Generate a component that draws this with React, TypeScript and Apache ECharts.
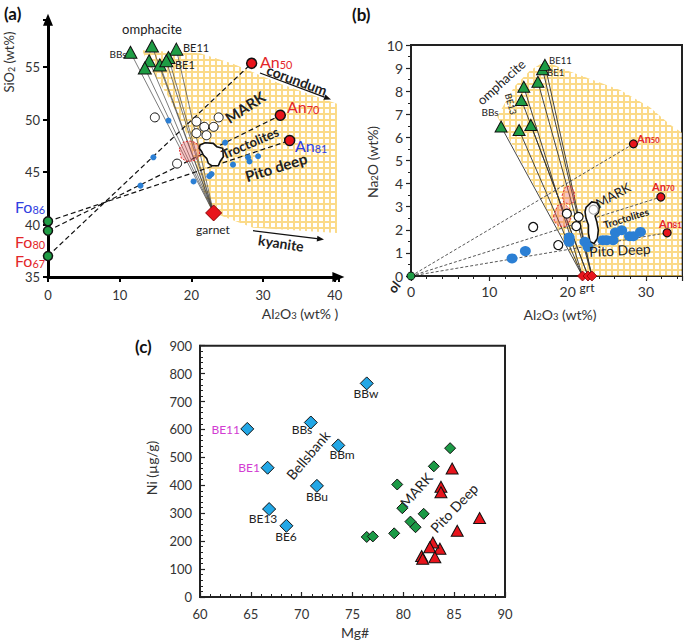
import React, { useEffect, useRef } from 'react';
import * as echarts from 'echarts';

const FONT = 'Lato, "Open Sans", "DejaVu Sans", sans-serif';

// ---------- Panel (a): SiO2 vs Al2O3 ----------
const aOmphacite = [[11.5, 56.4], [14.5, 57.0], [17.9, 56.7], [14.1, 55.6], [13.5, 54.9], [15.6, 55.2], [16.8, 55.9], [16.5, 55.6]];
const aGarnet = [[23.1, 41.1]];
const aOlivine = [[0, 40.3], [0, 39.4], [0, 37.0]]; // Fo86, Fo80, Fo67
const aPlagioclase = [[28.4, 55.35], [32.4, 50.4], [33.7, 48.0]]; // An50, An70, An81
const aMixPairs = [[2, 0], [1, 1], [0, 2]]; // olivine index -> plagioclase index
const aMark = [[14.9, 50.2], [20.7, 49.8], [21.8, 49.3], [23.1, 49.3], [23.8, 50.2], [20.7, 48.7], [22.1, 48.5], [18.0, 45.8]];
const aPito = [[16.8, 49.9], [14.7, 46.4], [12.9, 43.7], [24.7, 47.8], [25.8, 45.7], [27.9, 46.4], [28.1, 46.0], [29.3, 46.5], [20.3, 44.1], [22.5, 44.6], [22.8, 44.8]];
const aField = [[13.1, 56.6], [21.2, 56.3], [25.8, 55.3], [32.4, 53.4], [40.3, 51.5], [40.3, 39.2], [28.6, 39.7], [23.1, 41.1], [22.1, 42.3], [19.3, 48.7], [17.0, 51.9], [14.2, 55.0]];
const aTroctolites = [[21.2, 47.57], [21.9, 47.79], [23.05, 47.73], [23.53, 47.41], [24.37, 47.26], [24.45, 46.46], [23.99, 45.98], [23.75, 45.6], [22.83, 45.6], [22.36, 45.83], [22.13, 46.3], [21.66, 46.62], [21.44, 46.93], [21.1, 47.26]];
const aRedField = [[18.3, 47.2], [18.9, 47.85], [19.8, 47.95], [20.6, 47.8], [21.2, 47.3], [21.1, 46.5], [20.5, 46.1], [19.4, 46.0], [18.6, 46.3]];

// ---------- Panel (b): Na2O vs Al2O3 ----------
const bOmphacite = [[11.5, 6.47], [13.8, 6.32], [14.1, 7.62], [14.4, 8.19], [15.3, 6.54], [16.2, 8.41], [16.8, 8.95], [17.1, 9.14]];
const bGarnet = [[21.9, 0], [22.6, 0], [23.1, 0]];
const bTieTo = [0, 0, 1, 0, 1, 2, 2, 2];
const bOlivine = [[0, 0]];
const bPlagioclase = [[28.4, 5.72], [31.9, 3.42], [32.7, 1.87]];
const bMark = [[15.6, 2.12], [18.8, 1.34], [19.9, 2.7], [21.4, 2.56], [21.1, 2.16]];
const bMarkGray = [[23.3, 2.87]];
const bPito = [[12.9, 0.76], [14.6, 1.08], [20.2, 1.67], [20.2, 1.48], [22.2, 1.48], [22.6, 1.26], [24.5, 1.55], [25.0, 1.55], [25.8, 1.55], [26.1, 1.88], [26.9, 1.98], [27.9, 1.72], [28.4, 1.72], [29.3, 1.91]];
const bField = [[11.0, 6.9], [13.2, 8.2], [15.2, 8.9], [17.1, 9.3], [20.3, 8.85], [26.7, 8.05], [30.5, 7.3], [33.1, 6.55], [34.6, 6.2], [34.6, 0], [21.9, 0]];
const bMarkOutline = [[22.65, 3.07], [23.08, 3.21], [23.72, 3.17], [24.05, 3.0], [23.92, 2.74], [23.5, 2.6], [23.72, 2.35], [23.92, 1.99], [23.8, 1.63], [23.37, 1.41], [22.86, 1.48], [22.65, 1.85], [22.65, 2.21], [22.35, 2.5], [22.22, 2.78], [22.35, 2.97]];
const bRedUpper = [[19.3, 3.5], [19.7, 3.85], [20.4, 3.9], [20.9, 3.6], [20.8, 3.2], [20.2, 3.1], [19.5, 3.2]];
const bRedLower = [[18.2, 2.6], [18.7, 3.05], [19.5, 3.15], [20.3, 2.9], [20.4, 2.45], [19.8, 2.15], [18.9, 2.15], [18.3, 2.35]];

// ---------- Panel (c): Ni vs Mg# ----------
const cBellsNames = ['BE11', 'BE1', 'BE13', 'BE6', 'BBs', 'BBm', 'BBu', 'BBw'];
const cBellsMg = [64.65, 66.65, 66.8, 68.5, 70.9, 73.6, 71.5, 76.4];
const cBellsNi = [602, 463, 315, 255, 625, 543, 398, 765];
const cMarkMg = [76.4, 77.0, 79.1, 79.4, 79.9, 80.7, 81.2, 82.0, 83.0, 84.6];
const cMarkNi = [215, 217, 228, 403, 318, 270, 250, 298, 468, 533];
const cPitoMg = [84.8, 83.7, 83.7, 87.5, 85.3, 83.6, 82.9, 82.6, 83.1, 81.8, 81.9];
const cPitoNi = [460, 395, 375, 283, 237, 173, 195, 178, 142, 147, 137];

const zip = (a: number[], b: number[]) => a.map((v, i) => [v, b[i]]);

function scatter(g: number, data: any[], symbol: string, size: any, color: string, border: string, bw: number, z = 20) {
  return {
    type: 'scatter', xAxisIndex: g, yAxisIndex: g, data, symbol, symbolSize: size, silent: true, z,
    itemStyle: { color, borderColor: border, borderWidth: bw, opacity: 1 },
  };
}

function polygon(g: number, pts: number[][], style: any, z: number) {
  return {
    type: 'custom', xAxisIndex: g, yAxisIndex: g, z, silent: true, clip: false,
    data: [[pts[0][0], pts[0][1]]],
    renderItem: (_p: any, api: any) => ({
      type: 'polygon',
      shape: { points: pts.map((p) => api.coord(p)) },
      style,
    }),
  };
}

function segments(g: number, segs: number[][], style: any, z: number) {
  return {
    type: 'custom', xAxisIndex: g, yAxisIndex: g, z, silent: true, clip: false,
    data: segs,
    encode: { x: [0, 2], y: [1, 3] },
    renderItem: (_p: any, api: any) => {
      const p1 = api.coord([api.value(0), api.value(1)]);
      const p2 = api.coord([api.value(2), api.value(3)]);
      return { type: 'line', shape: { x1: p1[0], y1: p1[1], x2: p2[0], y2: p2[1] }, style };
    },
  };
}

function txt(x: number, y: number, text: string, o: any = {}) {
  return {
    type: 'text', x, y, rotation: o.rot || 0, silent: true, z: 100,
    style: {
      text, fontSize: o.size || 13, fontFamily: FONT, fontWeight: o.bold ? 'bold' : 'normal',
      fill: o.color || '#222', align: o.align || 'center', verticalAlign: 'middle',
    },
  };
}

function richTxt(x: number, y: number, parts: [string, boolean][], size: number, color: string, o: any = {}) {
  const text = parts.map(([t, sub]) => `{${sub ? 's' : 'm'}|${t}}`).join('');
  const w = o.bold ? 'bold' : 'normal';
  return {
    type: 'text', x, y, rotation: o.rot || 0, silent: true, z: 100,
    style: {
      text, align: o.align || 'left', verticalAlign: 'middle', fontFamily: FONT,
      rich: {
        m: { fontSize: size, fill: color, fontFamily: FONT, fontWeight: w, lineHeight: size * 1.12 },
        s: { fontSize: size * 0.68, fill: color, fontFamily: FONT, fontWeight: w, lineHeight: size * 0.55, verticalAlign: 'bottom' },
      },
    },
  };
}

function arrow(x1: number, y1: number, x2: number, y2: number) {
  const dx = x2 - x1, dy = y2 - y1;
  const L = Math.hypot(dx, dy);
  const ux = dx / L, uy = dy / L;
  const px = -uy, py = ux;
  const bx = x2 - 7 * ux, by = y2 - 7 * uy;
  return [
    { type: 'line', silent: true, z: 100, shape: { x1, y1, x2: bx, y2: by }, style: { stroke: '#111', lineWidth: 1.3 } },
    { type: 'polygon', silent: true, z: 100, shape: { points: [[x2, y2], [bx + 2.8 * px, by + 2.8 * py], [bx - 2.8 * px, by - 2.8 * py]] }, style: { fill: '#111' } },
  ];
}

export default function App() {
  const ref = useRef<HTMLDivElement>(null);
  useEffect(() => {
    if (!ref.current) return;
    const chart = echarts.init(ref.current, null, { renderer: 'svg' });

    const tile = document.createElement('canvas');
    tile.width = 6; tile.height = 6;
    const ctx = tile.getContext('2d')!;
    ctx.fillStyle = '#F9CB55'; ctx.fillRect(0, 0, 6, 6);
    ctx.fillStyle = '#FFFFFF'; ctx.fillRect(1, 1, 4, 4);
    const pattern = { image: tile.toDataURL(), repeat: 'repeat', imageWidth: 6, imageHeight: 6 };

    const lbl = { fontFamily: FONT, color: '#333' };

    const aTie = aOmphacite.map((p) => [p[0], p[1], aGarnet[0][0], aGarnet[0][1]]);
    const aMix = aMixPairs.map(([i, j]) => [aOlivine[i][0], aOlivine[i][1], aPlagioclase[j][0], aPlagioclase[j][1]]);
    const bTie = bOmphacite.map((p, i) => [p[0], p[1], bGarnet[bTieTo[i]][0], bGarnet[bTieTo[i]][1]]);
    const bMix = bPlagioclase.map((p) => [bOlivine[0][0], bOlivine[0][1], p[0], p[1]]);

    const GREEN = '#1f9d45';
    const RED = '#e8141c';
    const BLUE = '#2b7fd4';

    const option: any = {
      animation: false,
      backgroundColor: '#ffffff',
      grid: [
        { left: 48, top: 19.75, width: 290.4, height: 257.25, show: false },
        { left: 411, top: 45, width: 271, height: 231, show: true, borderColor: '#222', borderWidth: 2, backgroundColor: 'transparent' },
        { left: 200, top: 345.7, width: 305, height: 251.3, show: true, borderColor: '#222', borderWidth: 2, backgroundColor: 'transparent' },
      ],
      xAxis: [
        {
          gridIndex: 0, type: 'value', min: 0, max: 40.5, interval: 10,
          axisLine: { show: true, onZero: false, symbol: ['none', 'triangle'], symbolSize: [10, 12], lineStyle: { color: '#000', width: 3 } },
          axisTick: { show: true, length: 5, lineStyle: { color: '#000', width: 2 } },
          axisLabel: { ...lbl, fontSize: 13, margin: 11, formatter: (v: number) => (v > 40 ? '' : String(v)) },
          splitLine: { show: false },
        },
        {
          gridIndex: 1, type: 'value', min: 0, max: 34.6, interval: 10,
          axisLine: { show: true, onZero: false, lineStyle: { color: '#222', width: 2 } },
          axisTick: { show: true, length: 5, lineStyle: { color: '#222', width: 1.2 } },
          minorTick: { show: true, splitNumber: 5, length: 3, lineStyle: { color: '#222', width: 1 } },
          axisLabel: { ...lbl, fontSize: 14, margin: 8, formatter: (v: number) => (v > 30 ? '' : String(v)) },
          splitLine: { show: false },
        },
        {
          gridIndex: 2, type: 'value', min: 60, max: 90, interval: 5,
          axisLine: { show: true, onZero: false, lineStyle: { color: '#222', width: 2 } },
          axisTick: { show: true, inside: true, length: 5, lineStyle: { color: '#222', width: 1.2 } },
          minorTick: { show: true, splitNumber: 5, length: 3, lineStyle: { color: '#222', width: 1 } },
          axisLabel: { ...lbl, fontSize: 13, margin: 10 },
          splitLine: { show: false },
        },
      ],
      yAxis: [
        {
          gridIndex: 0, type: 'value', min: 35, max: 59.5, interval: 5,
          axisLine: { show: true, onZero: false, symbol: ['none', 'triangle'], symbolSize: [10, 12], lineStyle: { color: '#000', width: 3 } },
          axisTick: { show: true, length: 5, lineStyle: { color: '#000', width: 2 } },
          axisLabel: { ...lbl, fontSize: 13, margin: 8, formatter: (v: number) => (v > 55 ? '' : String(v)) },
          splitLine: { show: false },
        },
        {
          gridIndex: 1, type: 'value', min: 0, max: 10, interval: 1,
          axisLine: { show: true, onZero: false, lineStyle: { color: '#222', width: 2 } },
          axisTick: { show: true, length: 5, lineStyle: { color: '#222', width: 1.2 } },
          minorTick: { show: true, splitNumber: 2, length: 3, lineStyle: { color: '#222', width: 1 } },
          axisLabel: { ...lbl, fontSize: 14, margin: 8 },
          splitLine: { show: false },
        },
        {
          gridIndex: 2, type: 'value', min: 0, max: 900, interval: 100,
          axisLine: { show: true, onZero: false, lineStyle: { color: '#222', width: 2 } },
          axisTick: { show: true, inside: true, length: 5, lineStyle: { color: '#222', width: 1.2 } },
          minorTick: { show: true, splitNumber: 5, length: 3, lineStyle: { color: '#222', width: 1 } },
          axisLabel: { ...lbl, fontSize: 13, margin: 8 },
          splitLine: { show: false },
        },
      ],
      series: [
        // ----- (a)
        polygon(0, aField, { fill: pattern, opacity: 0.7 }, 1),
        segments(0, aTie, { stroke: '#444', lineWidth: 0.7 }, 3),
        segments(0, aMix, { stroke: '#111', lineWidth: 1.2, lineDash: [5, 3] }, 4),
        polygon(0, aRedField, { fill: 'rgba(235,90,90,0.35)', stroke: '#e03030', lineWidth: 1, lineDash: [2, 1.5] }, 5),
        polygon(0, aTroctolites, { fill: '#ffffff', stroke: '#111', lineWidth: 1.6 }, 6),
        scatter(0, aPito, 'circle', 6, BLUE, BLUE, 0),
        scatter(0, aMark, 'circle', 9, '#ffffff', '#111', 1),
        scatter(0, aOmphacite, 'triangle', [13, 12], GREEN, '#111', 1),
        scatter(0, aGarnet, 'diamond', [16, 16], RED, '#8a0000', 1),
        scatter(0, aOlivine, 'circle', 9, GREEN, '#111', 1.5),
        scatter(0, aPlagioclase, 'circle', 10, RED, '#111', 1.5),
        // ----- (b)
        polygon(1, bField, { fill: pattern, opacity: 0.7 }, 1),
        segments(1, bTie, { stroke: '#333', lineWidth: 0.9 }, 3),
        segments(1, bMix, { stroke: '#444', lineWidth: 0.9, lineDash: [3, 2] }, 4),
        polygon(1, bRedUpper, { fill: 'rgba(235,90,90,0.35)', stroke: '#e03030', lineWidth: 1, lineDash: [2, 1.5] }, 5),
        polygon(1, bRedLower, { fill: 'rgba(235,90,90,0.35)', stroke: '#e03030', lineWidth: 1, lineDash: [2, 1.5] }, 5),
        polygon(1, bMarkOutline, { fill: '#ffffff', stroke: '#111', lineWidth: 1.6 }, 6),
        scatter(1, bPito, 'circle', [11, 10], BLUE, BLUE, 0),
        scatter(1, bMark, 'circle', 9, '#ffffff', '#111', 1.2),
        scatter(1, bMarkGray, 'circle', 9, '#ffffff', '#aaa', 1.2),
        scatter(1, bOmphacite, 'triangle', [12, 11], GREEN, '#111', 1),
        scatter(1, bGarnet, 'diamond', [10, 10], RED, '#8a0000', 0.8),
        scatter(1, bOlivine, 'circle', 8, GREEN, '#111', 1),
        scatter(1, bPlagioclase, 'circle', 8, RED, '#111', 1.2),
        // ----- (c)
        scatter(2, zip(cBellsMg, cBellsNi), 'diamond', [13, 13], '#22a7e6', '#111', 1),
        scatter(2, zip(cMarkMg, cMarkNi), 'diamond', [11, 11], '#1c9a46', '#111', 1),
        scatter(2, zip(cPitoMg, cPitoNi), 'triangle', [12, 11], RED, '#111', 1),
      ],
      graphic: {
        elements: [
          // (a)
          txt(4, 13, '(a)', { size: 17, bold: true, align: 'left', color: '#111' }),
          txt(152, 29, 'omphacite', { size: 13 }),
          txt(118, 54, 'BBs', { size: 10 }),
          txt(183, 47, 'BE11', { size: 11, align: 'left' }),
          txt(175, 64, 'BE1', { size: 11, align: 'left' }),
          richTxt(260, 61, [['An', false], ['50', true]], 16, '#e3262a'),
          richTxt(287, 106, [['An', false], ['70', true]], 16, '#e3262a'),
          richTxt(295, 145, [['An', false], ['81', true]], 16, '#3040e0'),
          richTxt(15, 206, [['Fo', false], ['86', true]], 16, '#3040e0'),
          richTxt(15, 241, [['Fo', false], ['80', true]], 16, '#e3262a'),
          richTxt(15, 260, [['Fo', false], ['67', true]], 16, '#e3262a'),
          txt(213, 229, 'garnet', { size: 12 }),
          txt(245, 107, 'MARK', { size: 15, bold: true, rot: 0.58 }),
          txt(250, 143, 'Troctolites', { size: 13, bold: true, rot: 0.41 }),
          txt(276, 167, 'Pito deep', { size: 15, bold: true, rot: 0.3 }),
          txt(297, 80, 'corundum', { size: 14, bold: true, rot: -0.35 }),
          ...arrow(260, 73, 331, 99.5),
          txt(281, 243, 'kyanite', { size: 14, bold: true, rot: -0.15 }),
          ...arrow(253, 230.7, 324, 239.5),
          richTxt(9, 62, [['SiO', false], ['2', true], [' (wt%)', false]], 13, '#333', { align: 'center', rot: Math.PI / 2 }),
          richTxt(300, 313, [['Al', false], ['2', true], ['O', false], ['3', true], [' (wt% )', false]], 14, '#333', { align: 'center' }),
          // (b)
          txt(352, 14, '(b)', { size: 17, bold: true, align: 'left', color: '#111' }),
          txt(501, 82, 'omphacite', { size: 13, rot: 0.74 }),
          txt(490, 112, 'BBs', { size: 10 }),
          txt(511, 104, 'BE13', { size: 9, rot: -1.3 }),
          txt(549, 60, 'BE11', { size: 9.5, align: 'left' }),
          txt(547, 72.5, 'BE1', { size: 9.5, align: 'left' }),
          richTxt(637, 138, [['An', false], ['50', true]], 11, '#e3262a', { bold: true }),
          richTxt(652, 186, [['An', false], ['70', true]], 11, '#e3262a', { bold: true }),
          richTxt(659, 223, [['An', false], ['81', true]], 11, '#e3262a', { bold: true }),
          txt(613, 195, 'MARK', { size: 13, rot: 0.5 }),
          txt(626, 218, 'Troctolites', { size: 10, bold: true, rot: 0.3 }),
          txt(620, 250, 'Pito Deep', { size: 14, rot: 0.05 }),
          txt(587, 287, 'grt', { size: 12 }),
          txt(394, 287, 'ol', { size: 13, bold: true, rot: 0.9 }),
          richTxt(372, 162, [['Na', false], ['2', true], ['O (wt%)', false]], 14, '#333', { align: 'center', rot: Math.PI / 2 }),
          richTxt(560, 314, [['Al', false], ['2', true], ['O', false], ['3', true], [' (wt%)', false]], 14, '#333', { align: 'center' }),
          // (c)
          txt(135, 346, '(c)', { size: 17, bold: true, align: 'left', color: '#111' }),
          txt(240, 429, cBellsNames[0], { size: 12, align: 'right', color: '#d23cd2' }),
          txt(260, 467, cBellsNames[1], { size: 12, align: 'right', color: '#d23cd2' }),
          txt(263, 518, cBellsNames[2], { size: 12 }),
          txt(286, 536, cBellsNames[3], { size: 12 }),
          txt(302, 429, cBellsNames[4], { size: 12 }),
          txt(342, 454, cBellsNames[5], { size: 12 }),
          txt(317, 496, cBellsNames[6], { size: 12 }),
          txt(366, 393, cBellsNames[7], { size: 12 }),
          txt(308, 455, 'Bellsbank', { size: 14, rot: 0.87 }),
          txt(416, 490, 'MARK', { size: 14, rot: 0.85 }),
          txt(454, 508, 'Pito Deep', { size: 14, rot: 0.81 }),
          txt(151, 468, 'Ni (µg/g)', { size: 14, rot: Math.PI / 2, color: '#333' }),
          txt(355, 632, 'Mg#', { size: 14, color: '#333' }),
        ],
      },
    };

    chart.setOption(option);
    return () => chart.dispose();
  }, []);

  return <div ref={ref} style={{ position: 'absolute', left: 0, top: 0, width: 685, height: 641, background: '#fff' }} />;
}
